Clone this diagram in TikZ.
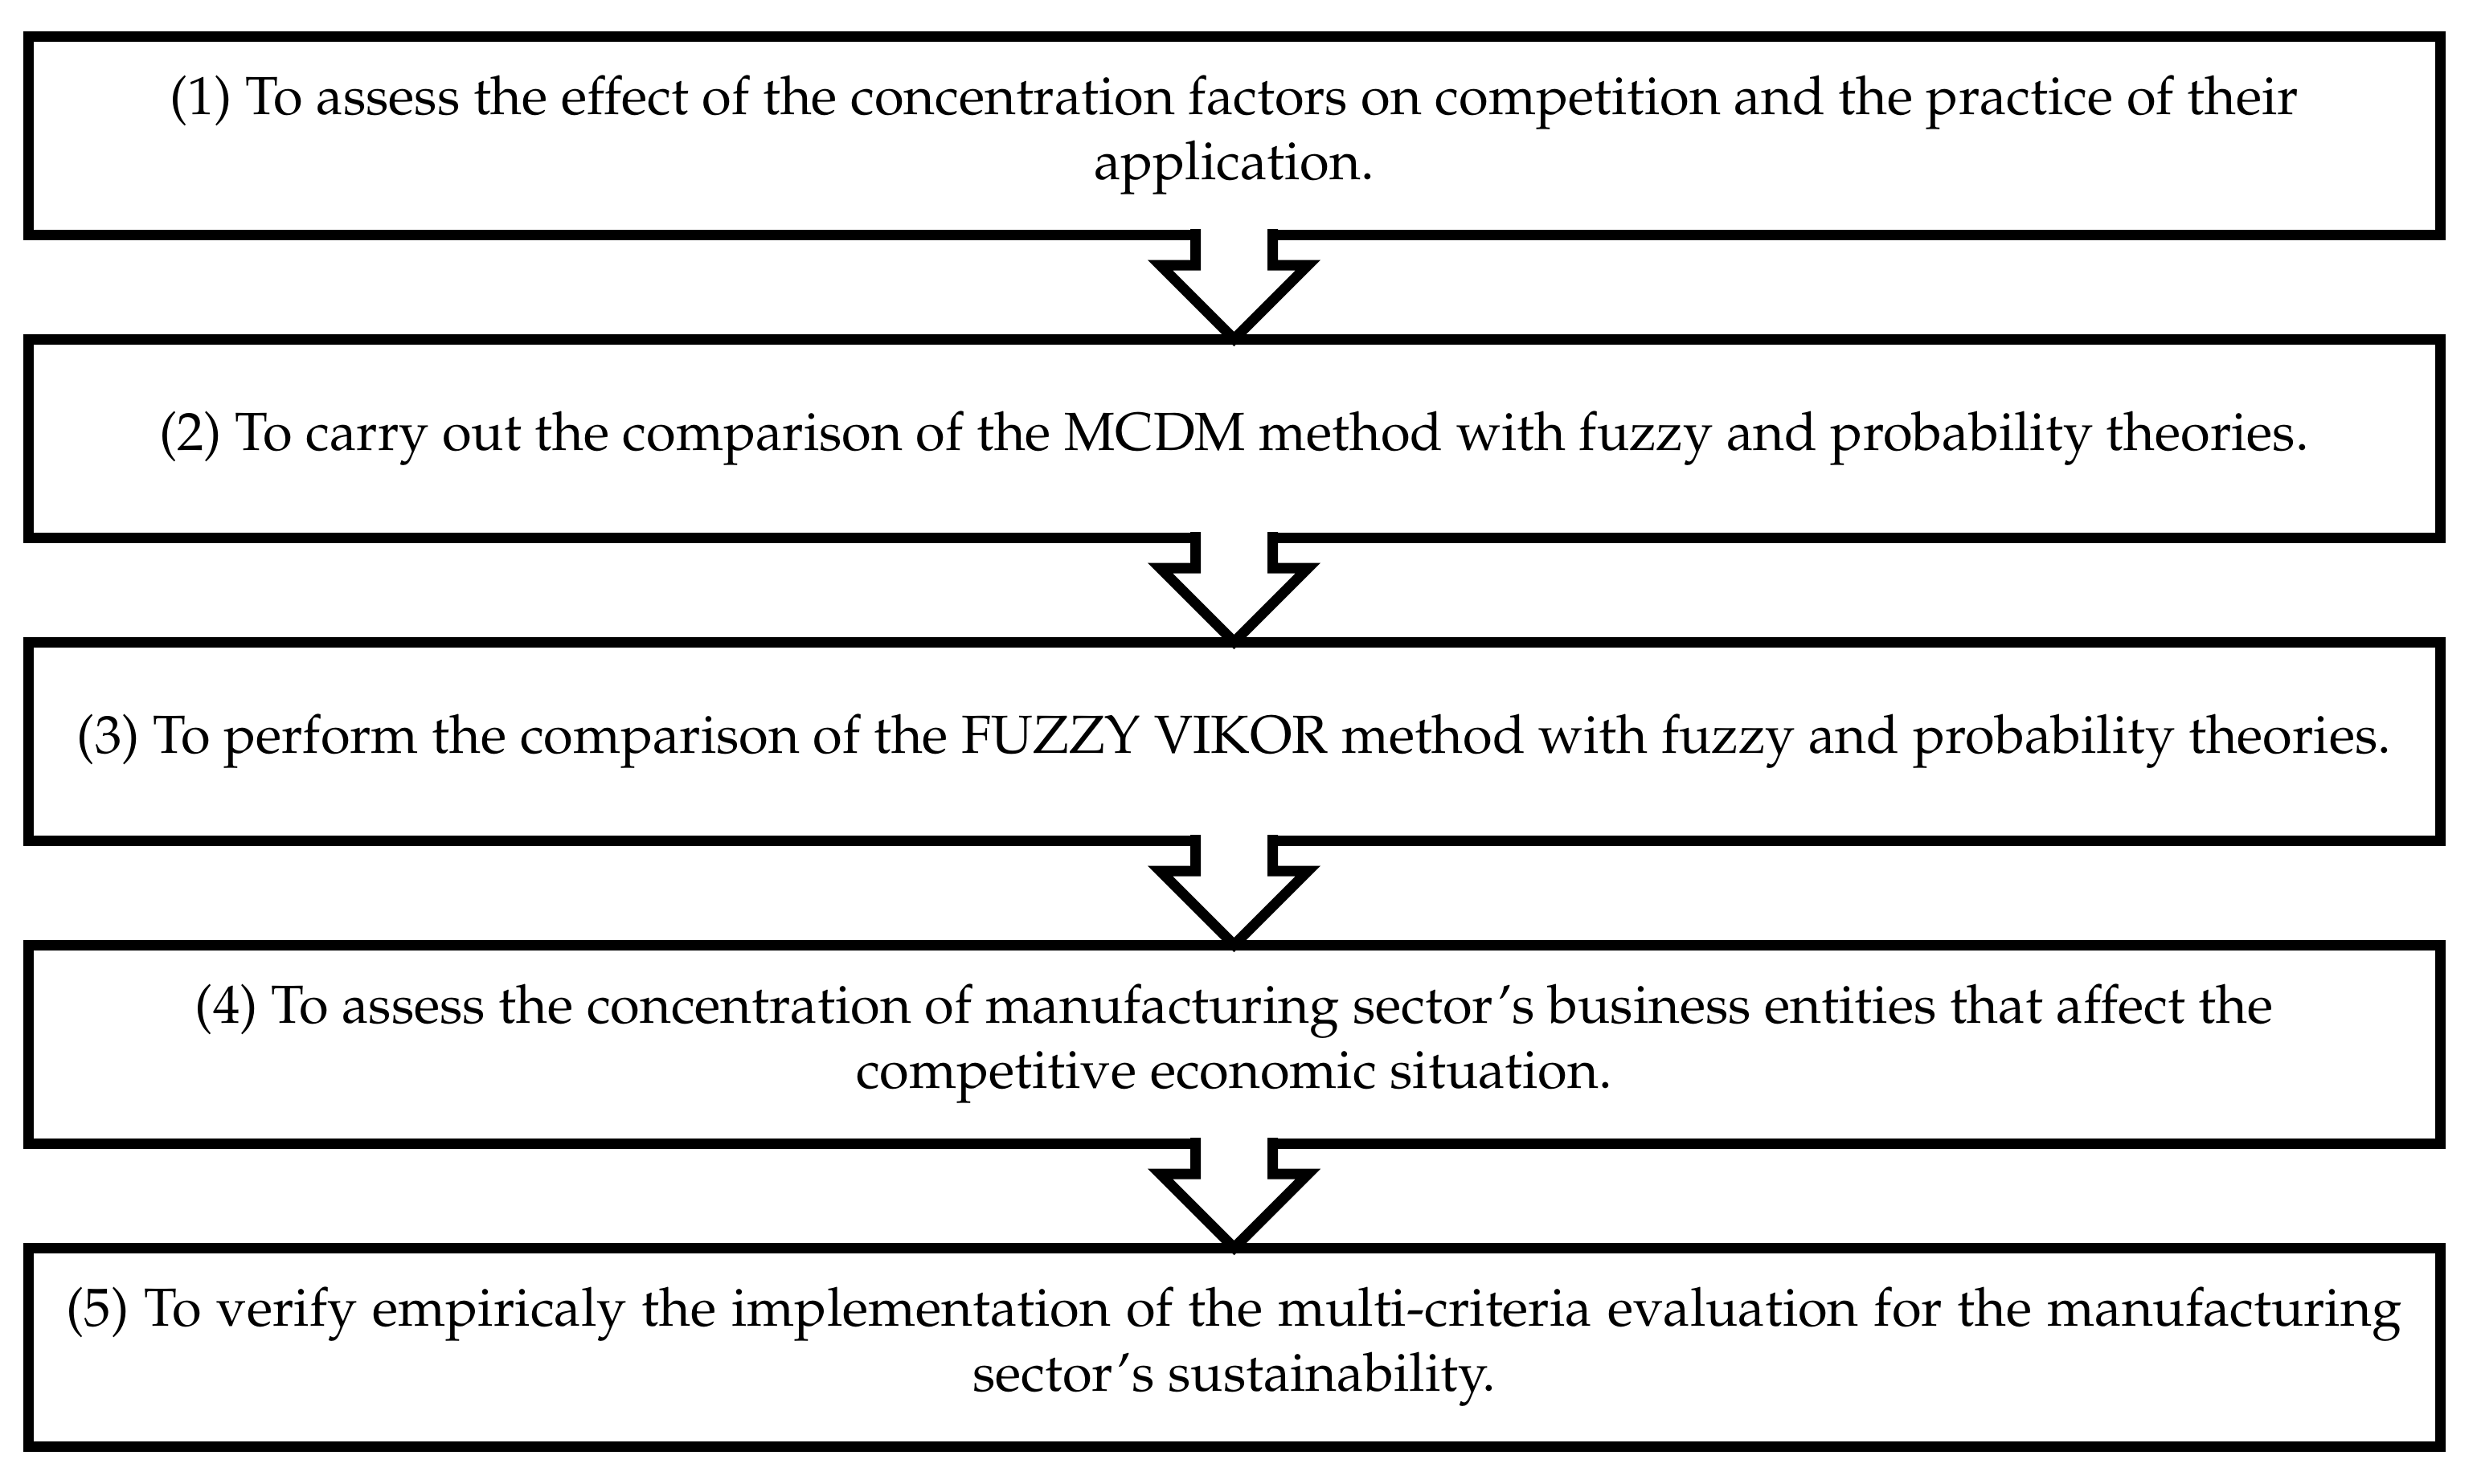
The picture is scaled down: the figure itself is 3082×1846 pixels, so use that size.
\documentclass[tikz,border=0pt]{standalone}
\usepackage[T1]{fontenc}
\usepackage{mathpazo}
\begin{document}
\begin{tikzpicture}[x=0.25pt,y=-0.25pt,
  box/.style={draw,line width=3.25pt,minimum width=750.25pt,minimum height=61.75pt,
    inner sep=0pt,outer sep=0pt,align=center,font=\fontsize{16.7pt}{20.2pt}\selectfont},
  blockarrow/.style={draw,fill=white,line width=3.25pt,miter limit=10}]
\useasboundingbox (0,0) rectangle (3082,1846);
\node[box] (b1) at (1535.5,168.5) {(1) To assess the effect of the concentration factors on competition and the practice of their\\application.};
\node[box] (b2) at (1535.5,545.5) {(2) To carry out the comparison of the MCDM method with fuzzy and probability theories.};
\node[box] (b3) at (1535.5,922.5) {(3) To perform the comparison of the FUZZY VIKOR method with fuzzy and probability theories.};
\node[box] (b4) at (1535.5,1299.5) {(4) To assess the concentration of manufacturing sector's business entities that affect the\\competitive economic situation.};
\node[box] (b5) at (1535.5,1676.5) {{\spaceskip=4.75pt plus 1pt (5) To verify empiricaly the implementation of the multi-criteria evaluation for the manufacturing}\\sector's sustainability.};
\foreach \a/\b in {b1/b2,b2/b3,b3/b4,b4/b5}{
  \draw[blockarrow] ([xshift=-12pt,yshift=1.75pt]\a.south) -- ++(0,45) -- ++(-44,0)
    -- (\b.north) -- ++(92,-92) -- ++(-44,0) -- ++(0,-45);
}
\end{tikzpicture}
\end{document}
